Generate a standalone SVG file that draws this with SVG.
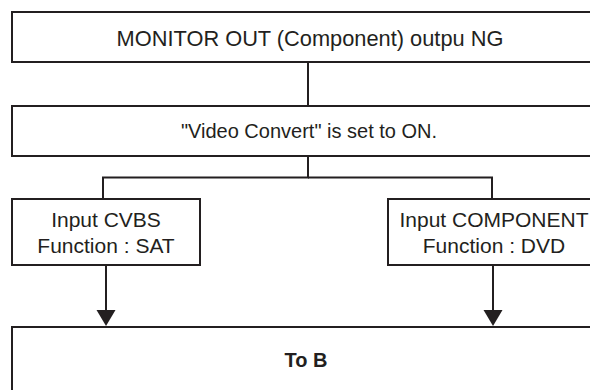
<svg xmlns="http://www.w3.org/2000/svg" width="590" height="390" viewBox="0 0 590 390">
<style>
.box{fill:#ffffff;stroke:#231f20;stroke-width:2}
.ln{fill:none;stroke:#231f20;stroke-width:2}
.ah{fill:#231f20;stroke:none}
text{font-family:"Liberation Sans",Arial,sans-serif;font-size:20px;fill:#231f20;text-anchor:middle}
.lg{font-size:21.8px}
.md{font-size:21px}
.b{font-weight:bold}
</style>
<rect width="590" height="390" fill="#ffffff"/>
<g id="connectors">
<line class="ln" x1="308" y1="62" x2="308" y2="106"/>
<polyline class="ln" points="308,156 308,177.5 103,177.5 103,199"/>
<polyline class="ln" points="308,177.5 492,177.5 492,199"/>
<line class="ln" x1="106" y1="265" x2="106" y2="311"/>
<polygon class="ah" points="96.5,310 115.5,310 106,326"/>
<line class="ln" x1="493" y1="265" x2="493" y2="311"/>
<polygon class="ah" points="483.5,310 502.5,310 493,326"/>
</g>
<g id="n1">
<rect class="box" x="12" y="12" width="600" height="50"/>
<text class="lg" x="310" y="46">MONITOR OUT (Component) outpu NG</text>
</g>
<g id="n2">
<rect class="box" x="12" y="106" width="600" height="50"/>
<text x="309" y="138">"Video Convert" is set to ON.</text>
</g>
<g id="n3">
<rect class="box" x="12" y="199" width="188" height="66"/>
<text class="md" x="106" y="227">Input CVBS</text>
<text class="md" x="106" y="253">Function : SAT</text>
</g>
<g id="n4">
<rect class="box" x="388" y="199" width="212" height="66"/>
<text class="md" x="494" y="227">Input COMPONENT</text>
<text class="md" x="494" y="253">Function : DVD</text>
</g>
<g id="n5">
<rect class="box" x="12" y="327" width="600" height="80"/>
<text class="b" x="306" y="367">To B</text>
</g>
</svg>
